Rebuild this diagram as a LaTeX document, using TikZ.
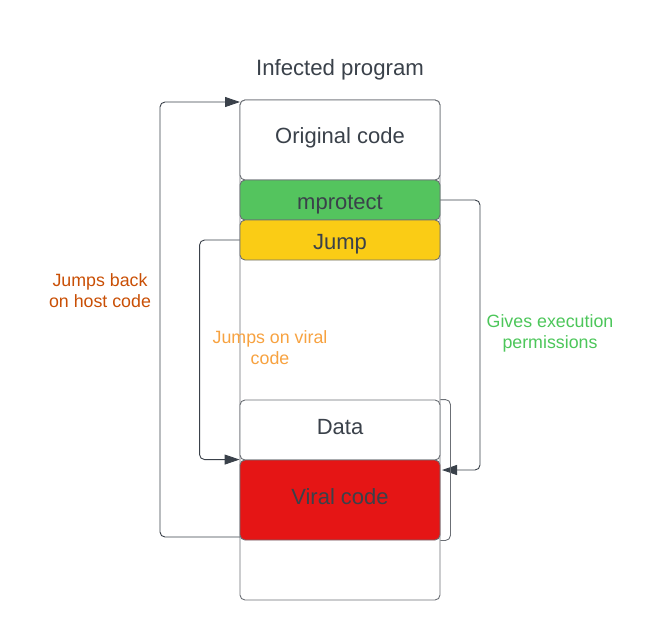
\documentclass[tikz,border=0pt]{standalone}
\usepackage{fontspec}
\setmainfont{Liberation Sans}
\usetikzlibrary{arrows.meta,calc}
\definecolor{txt}{HTML}{3A414A}
\definecolor{edge}{HTML}{6B6F75}
\definecolor{gfill}{HTML}{54C45E}
\definecolor{yfill}{HTML}{FACC15}
\definecolor{rfill}{HTML}{E51515}
\definecolor{lbred}{HTML}{C94F05}
\definecolor{lbor}{HTML}{F7A240}
\definecolor{lbgr}{HTML}{4CC65A}
\begin{document}
\begin{tikzpicture}[x=1pt,y=-1pt,
  box/.style={draw=edge, line width=0.9pt, rounded corners=5pt, minimum width=200pt, inner sep=0pt, text height=10pt, text depth=0pt, text=txt, font=\fontsize{22}{26}\selectfont},
  arr/.style={draw=txt, line width=0.9pt, rounded corners=5pt, -{Triangle[length=15pt,width=10pt]}},
  lbl/.style={align=center, font=\fontsize{17.8}{21}\selectfont}]
\useasboundingbox (0,0) rectangle (660,640);
\node[box, minimum height=500pt] (outer) at (340,350) {};
\node[box, minimum height=80pt, fill=white] (orig) at (340,140) {\raisebox{1.7pt}{Original code}};
\node[box, minimum height=40pt, fill=gfill] (mprot) at (340,200) {\raisebox{-4pt}{mprotect}};
\node[box, minimum height=40pt, fill=yfill] (jump) at (340,240) {\raisebox{-4pt}{Jump}};
\node[box, minimum height=60pt, fill=white] (data) at (340,430) {\raisebox{1pt}{Data}};
\node[box, minimum height=80pt, fill=rfill] (viral) at (340,500) {\raisebox{1pt}{Viral code}};
\node[text=txt, font=\fontsize{22.2}{26}\selectfont] (title) at (340,70) {Infected program};
\coordinate (vb) at (240,537);
\coordinate (ot) at (240,102);
\coordinate (vt) at (442,470);
\draw[arr] (vb) -| ($(ot)+(-80,0)$) -- (ot);
\draw[arr] (jump.west) -| ($(viral.north west)+(-40,0)$) -- (viral.north west);
\draw[arr] (mprot.east) -| ($(vt)+(38,0)$) -- (vt);
\draw[draw=edge, line width=0.9pt, rounded corners=5pt] (data.north east) -- ++(10,0) |- (viral.south east);
\node[lbl, text=lbred] (l1) at (100,291) {Jumps back\\on host code};
\node[lbl, text=lbor] (l2) at (270,348) {Jumps on viral\\code};
\node[lbl, text=lbgr] (l3) at (550,333) {Gives execution\\permissions};
\end{tikzpicture}
\end{document}
